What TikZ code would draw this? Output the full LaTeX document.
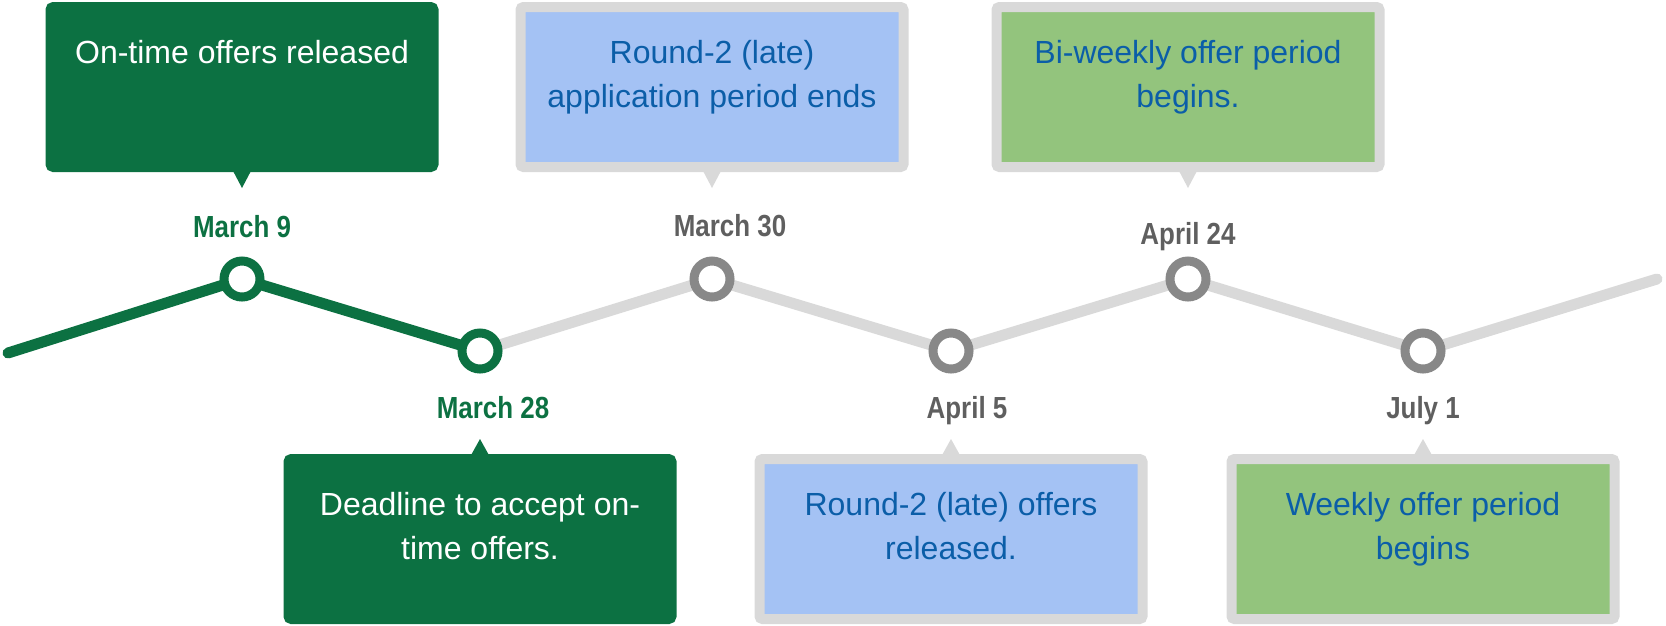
\documentclass[tikz,border=0pt]{standalone}
\usepackage{fontspec}
\setmainfont{Liberation Sans}
\newfontfamily\whenfont[FakeStretch=0.85]{Liberation Sans}
\usepackage{tikz}
\usetikzlibrary{positioning, calc, backgrounds}
\definecolor{ontime}{RGB}{12, 113, 66}
\definecolor{lateblue}{RGB}{164, 194, 244}
\definecolor{weekgreen}{RGB}{147, 196, 125}
\definecolor{frame}{RGB}{217, 217, 217}
\definecolor{ink}{RGB}{11, 94, 168}
\definecolor{ring}{RGB}{136, 136, 136}
\definecolor{daygray}{RGB}{95, 95, 95}

\begin{document}
\begin{tikzpicture}[
        x=1pt, y=-1pt,
        callout/.style = {minimum width=383pt, minimum height=160pt, line width=10pt, rounded corners=3pt, inner sep=0pt},
        deep/.style = {fill=ontime, draw=ontime},
        bordered/.style = {draw=frame},
        txt/.style = {inner sep=0pt, align=center, font=\fontsize{32}{44.5}\selectfont},
        milestone/.style = {circle, minimum size=36pt, inner sep=0pt, line width=9pt, fill=white},
        when/.style = {inner sep=0pt, font=\whenfont\bfseries\fontsize{30.5}{35}\selectfont},
        track/.style = {line width=11pt, line cap=round, line join=round},
    ]
        \useasboundingbox (0,0) rectangle (1666,625);

        \node[milestone, draw=ontime] (mar9) at (242,279) {};
        \node[milestone, draw=ontime] (mar28) at (480,351) {};
        \node[milestone, draw=ring] (mar30) at (712,279) {};
        \node[milestone, draw=ring] (apr5) at (951,351) {};
        \node[milestone, draw=ring] (apr24) at (1188,279) {};
        \node[milestone, draw=ring] (jul1) at (1423,351) {};
        \coordinate (first) at (8,353);
        \coordinate (last) at (1657,279);

        % timeline behind the rings
        \begin{scope}[on background layer]
            \draw[track, frame] (mar28.center) -- (mar30.center) -- (apr5.center) -- (apr24.center) -- (jul1.center) -- (last);
            \draw[track, ontime] (first) -- (mar9.center) -- (mar28.center);
        \end{scope}

        % dates
        \node[when, ontime, above=19pt of mar9] (t9) {March 9};
        \node[when, daygray, above=19pt of mar30, xshift=18pt] (t30) {March 30};
        \node[when, daygray, above=5pt of apr24] (t24) {April 24};
        \node[when, ontime, below=23pt of mar28, xshift=13pt] (t28) {March 28};
        \node[when, daygray, below=23pt of apr5, xshift=16pt] (t5) {April 5};
        \node[when, daygray, below=23pt of jul1] (t1) {July 1};

        % callouts
        \node[callout, deep, above=84.5pt of mar9] (onbox) {};
        \node[callout, bordered, fill=lateblue, above=84.5pt of mar30] (appbox) {};
        \node[callout, bordered, fill=weekgreen, above=84.5pt of apr24] (biwbox) {};
        \node[callout, deep, below=80.5pt of mar28] (accbox) {};
        \node[callout, bordered, fill=lateblue, below=80.5pt of apr5] (offbox) {};
        \node[callout, bordered, fill=weekgreen, below=80.5pt of jul1] (wkbox) {};

        \fill[ontime] ($(onbox.south)+(-10,-3)$) -- ++(10,19) -- ++(10,-19) -- cycle;
        \fill[frame] ($(appbox.south)+(-10,-3)$) -- ++(10,19) -- ++(10,-19) -- cycle;
        \fill[frame] ($(biwbox.south)+(-10,-3)$) -- ++(10,19) -- ++(10,-19) -- cycle;
        \fill[ontime] ($(accbox.north)+(-10,3)$) -- ++(10,-18) -- ++(10,18) -- cycle;
        \fill[frame] ($(offbox.north)+(-10,3)$) -- ++(10,-18) -- ++(10,18) -- cycle;
        \fill[frame] ($(wkbox.north)+(-10,3)$) -- ++(10,-18) -- ++(10,18) -- cycle;

        \node[txt, white, below=38pt of onbox.north] (ontxt) {On-time offers released};
        \node[txt, ink, below=38pt of appbox.north] (apptxt) {Round-2 (late)\\application period ends};
        \node[txt, ink, below=38pt of biwbox.north] (biwtxt) {Bi-weekly offer period\\begins.};
        \node[txt, white, below=38pt of accbox.north] (acctxt) {Deadline to accept on-\\time offers.};
        \node[txt, ink, below=38pt of offbox.north] (offtxt) {Round-2 (late) offers\\released.};
        \node[txt, ink, below=38pt of wkbox.north] (wktxt) {Weekly offer period\\begins};
    \end{tikzpicture}
\end{document}
